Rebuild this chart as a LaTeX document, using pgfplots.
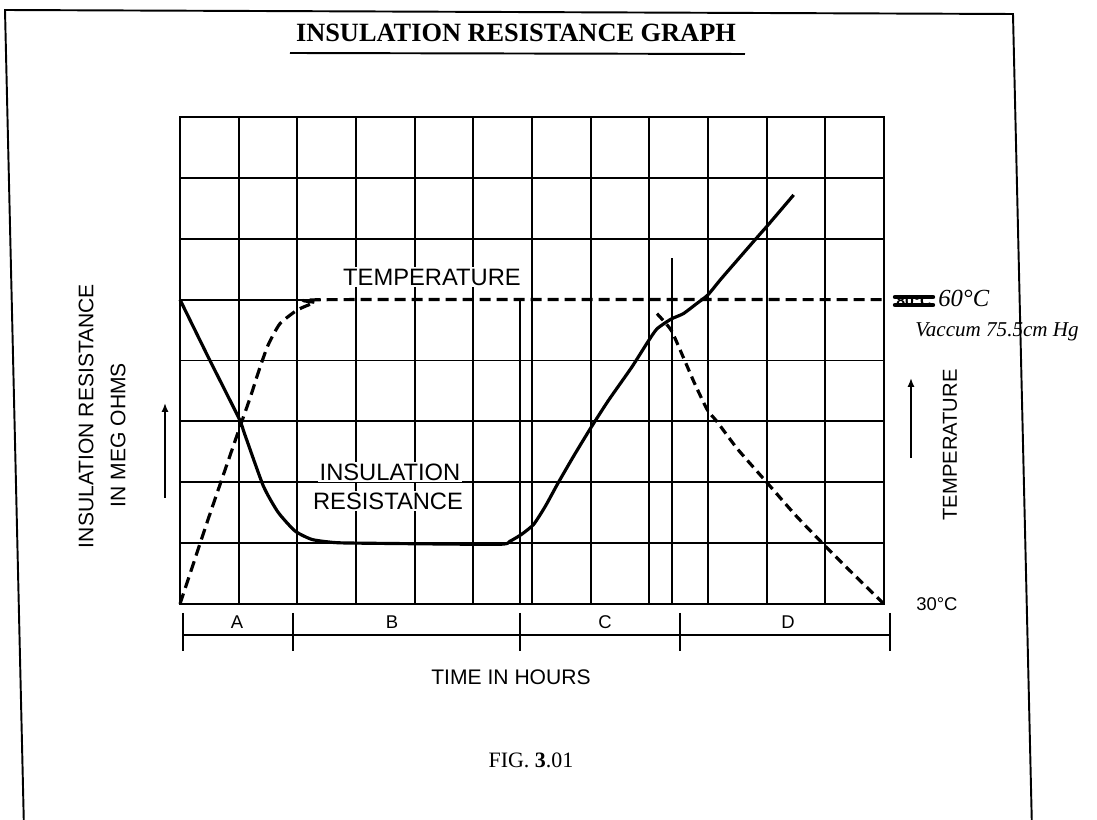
\documentclass[border=0pt]{standalone}
\usepackage{fontspec}
\setmainfont{Liberation Serif}
\newfontfamily\hv{Liberation Sans}
\usepackage{pgfplots}
\pgfplotsset{compat=1.18}
\usetikzlibrary{arrows.meta}
\begin{document}
\begin{tikzpicture}
\useasboundingbox (0,0) rectangle (219.4mm,-164mm);
\begin{axis}[
  at={(36mm,-120.8mm)}, anchor=south west,
  scale only axis, width=140.8mm, height=97.4mm,
  xmin=0, xmax=12, ymin=0, ymax=8,
  xtick={0,...,12}, ytick={0,1,2,3,4,6,7,8},
  xticklabels={}, yticklabels={},
  major tick length=0pt,
  grid=major,
  major grid style={black, line width=1.1pt},
  axis line style={black, line width=1.2pt},
  clip=false]
% insulation resistance (solid)
\addplot[black, line width=1.8pt, line join=round, smooth, tension=0.35] coordinates {
(0,5.0) (0.50,4.02) (1.0,3.06) (1.11,2.77) (1.42,1.94) (1.67,1.51) (1.96,1.20)
(2.25,1.06) (2.63,1.01) (3.04,1.0) (5.40,0.98) (5.62,1.03) (5.83,1.15) (6.03,1.31)
(6.23,1.61) (6.44,1.98) (6.71,2.43) (7.0,2.89) (7.30,3.34) (7.70,3.89) (7.97,4.30)
(8.13,4.52) (8.37,4.68) (8.58,4.77) (8.80,4.93) (9.0,5.08) (9.24,5.36) (9.88,6.07)
(10.0,6.2) (10.46,6.72)};
% temperature rise and hold (dashed)
\addplot[black, line width=1.8pt, smooth, tension=0.35, dash pattern=on 2.2mm off 1.2mm] coordinates {
(0,0) (0.5,1.45) (1.0,2.85) (1.2,3.4) (1.35,3.85) (1.5,4.25) (1.7,4.6) (2.0,4.83)
(2.3,4.95) (2.6,5.0) (12,5.0)};
% temperature fall (dashed)
\addplot[black, line width=1.8pt, smooth, tension=0.35, dash pattern=on 1.8mm off 1.1mm] coordinates {
(8.13,4.77) (8.37,4.5) (8.58,4.05) (8.75,3.67) (8.88,3.4) (9.0,3.17) (9.15,3.0)
(9.5,2.55) (10,2.0) (10.5,1.45) (11,0.95) (11.5,0.47) (12,0)};
% partial grid line and phase markers
\draw[line width=1.1pt] (axis cs:0,5) -- (axis cs:2.4,5);
\draw[line width=1.1pt] (axis cs:5.79,5) -- (axis cs:5.79,0);
\draw[line width=1.1pt] (axis cs:8.38,5.68) -- (axis cs:8.38,0);
\end{axis}
\begin{scope}[x=0.2mm,y=-0.2mm]
% page frame
\draw[line width=1.1pt] (24,830) -- (5,10) -- (1013,14) -- (1032,830);
% title
\node[anchor=base, inner sep=0pt, font=\fontsize{15}{18}\selectfont\bfseries] at (516,42) {INSULATION RESISTANCE GRAPH};
\draw[line width=1.1pt] (290,53) -- (745,54);
% inner labels
\node[fill=white, inner sep=1pt, font=\hv\fontsize{13.5}{16}\selectfont] at (432,277) {TEMPERATURE};
\node[fill=white, inner sep=1pt, font=\hv\fontsize{13.5}{16}\selectfont] at (390,472) {INSULATION};
\node[fill=white, inner sep=1pt, font=\hv\fontsize{13.5}{16}\selectfont] at (388,501) {RESISTANCE};
% axis side labels
\node[rotate=90, inner sep=0pt, font=\hv\fontsize{12}{14}\selectfont] at (86,416) {INSULATION RESISTANCE};
\node[rotate=90, inner sep=0pt, font=\hv\fontsize{12}{14}\selectfont] at (118,435) {IN MEG OHMS};
\draw[line width=1.4pt, -{Latex[length=5pt,width=4pt]}] (165,498) -- (165,403);
\node[rotate=90, inner sep=0pt, font=\hv\fontsize{11.5}{14}\selectfont] at (950,445) {TEMPERATURE};
\draw[line width=1.4pt, -{Latex[length=5pt,width=4pt]}] (911,458) -- (911,378);
\node[anchor=west, inner sep=0pt, font=\hv\fontsize{10.5}{12}\selectfont] at (916,604) {30°C};
% handwritten notes
\node[inner sep=0pt, font=\hv\fontsize{9}{10}\selectfont\bfseries] at (914,301) {80°C};
\draw[line width=2.5pt, line cap=round] (895,297) -- (933,297);
\draw[line width=2.5pt, line cap=round] (895,305) -- (933,305);
\node[anchor=west, inner sep=0pt, font=\fontsize{14}{16}\selectfont\itshape] at (938,298) {60°C};
\node[anchor=west, inner sep=0pt, font=\fontsize{12}{14}\selectfont\itshape] at (915,332) {Vaccum 75.5cm Hg};
% time phase bar
\draw[line width=1.1pt] (183,635) -- (890,635);
\foreach \xx in {183,293,520,680,890} \draw[line width=1.1pt] (\xx,613) -- (\xx,651);
\foreach \xx/\ll in {237/A,392/B,605/C,788/D}
  \node[inner sep=0pt, font=\hv\fontsize{10.5}{12}\selectfont] at (\xx,622) {\ll};
\node[inner sep=0pt, font=\hv\fontsize{12}{14}\selectfont] at (511,677) {TIME IN HOURS};
\node[inner sep=0pt, font=\fontsize{12.5}{14}\selectfont] at (531,760) {FIG.\ \textbf{3}.01};
\end{scope}
\end{tikzpicture}
\end{document}
